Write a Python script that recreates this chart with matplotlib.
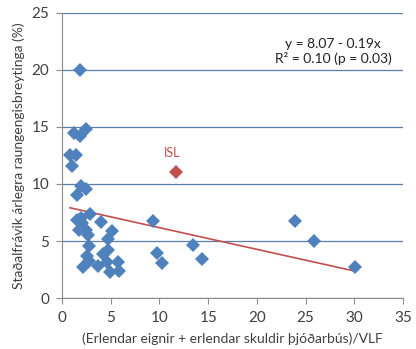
import numpy as np
import matplotlib.pyplot as plt

# openness vs. real exchange rate volatility, one point per country
openness = [1.85, 1.23, 1.85, 2.46, 0.82, 1.44, 1.03, 1.5, 1.95, 2.46, 2.87, 1.95,
            1.5, 2.05, 1.7, 2.46, 2.7, 2.8, 4.0, 4.7, 5.17, 4.76, 4.2, 2.53, 2.8,
            2.19, 3.66, 4.59, 4.93, 5.78, 5.9, 9.38, 9.79, 10.3, 13.4, 14.4, 23.9,
            25.9, 30.1]
volatility = [20.0, 14.5, 14.2, 14.85, 12.5, 12.5, 11.6, 9.0, 9.85, 9.56, 7.34, 7.0,
              6.84, 6.6, 6.0, 6.0, 5.5, 4.6, 6.64, 5.14, 5.9, 4.2, 3.87, 3.68, 3.27,
              2.72, 2.78, 3.15, 2.3, 3.2, 2.4, 6.78, 3.91, 3.1, 4.65, 3.42, 6.78,
              5.0, 2.75]
isl_x, isl_y = 11.7, 11.05
intercept, slope = 8.07, -0.19

blue = "#4F81BD"
red = "#C0504D"
grey = "#404040"

plt.rcParams["font.family"] = ["Lato", "DejaVu Sans"]
fig = plt.figure(figsize=(4.16, 3.49), dpi=100)
ax = fig.add_axes([0.149, 0.146, 0.82, 0.817])

ax.plot(openness, volatility, "D", color=blue, markersize=7, markeredgewidth=0, zorder=3)
ax.plot([isl_x], [isl_y], "D", color=red, markersize=7, markeredgewidth=0, zorder=3)
ax.text(isl_x - 0.45, isl_y + 1.7, "ISL", color=red, fontsize=9, ha="center", va="center")

# least squares fit over the range of the data
xs = np.array([min(openness), max(openness)])
ax.plot(xs, intercept + slope * xs, color=red, lw=1.2, zorder=2)

ax.text(0.795, 0.865, "y = 8.07 - 0.19x\nR² = 0.10 (p = 0.03)", transform=ax.transAxes,
        ha="center", va="center", fontsize=10, color="#222222", linespacing=1.15)

ax.set_xlim(0, 35)
ax.set_ylim(0, 25)
ax.set_xticks(range(0, 36, 5))
ax.set_yticks(range(0, 26, 5))
ax.yaxis.grid(True, color="#5a7fab", lw=0.9)
ax.set_axisbelow(True)
for s in ["top", "right"]:
    ax.spines[s].set_visible(False)
for s in ["left", "bottom"]:
    ax.spines[s].set_color("#8c8c8c")
ax.tick_params(direction="out", length=4, color="#8c8c8c", labelsize=11,
               labelcolor=grey, pad=5)

ax.set_xlabel("(Erlendar eignir + erlendar skuldir þjóðarbús)/VLF", fontsize=10,
              color=grey, labelpad=6)
ax.set_ylabel("Staðalfrávik árlegra raungengisbreytinga (%)", fontsize=10,
              color=grey, labelpad=5)

fig.savefig("out.png", dpi=100)
